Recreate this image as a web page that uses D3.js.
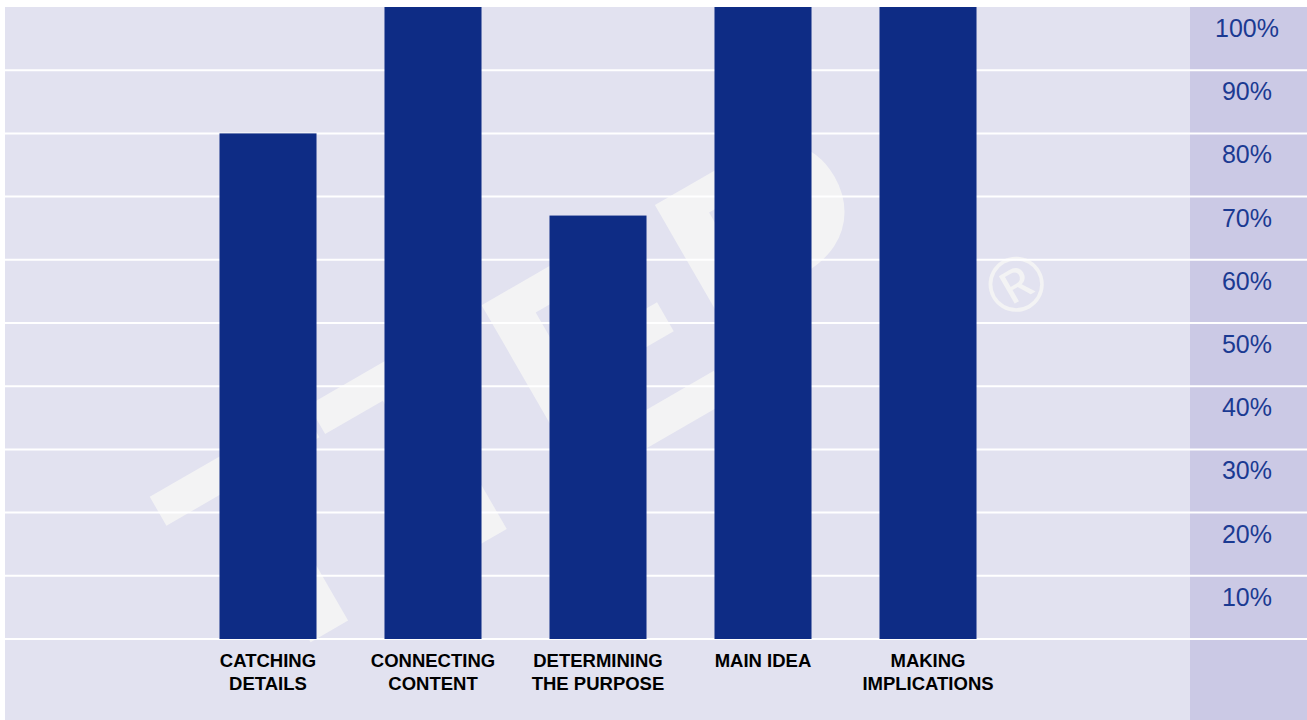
<!DOCTYPE html>
<html>
<head>
<meta charset="utf-8">
<script src="https://cdn.jsdelivr.net/npm/d3@7"></script>
<style>
  body { margin: 0; background: #ffffff; }
  svg { display: block; }
</style>
</head>
<body>
<svg width="1307" height="720"></svg>
<script>
const categories = [
  ['CATCHING', 'DETAILS'],
  ['CONNECTING', 'CONTENT'],
  ['DETERMINING', 'THE PURPOSE'],
  ['MAIN IDEA'],
  ['MAKING', 'IMPLICATIONS']
];
const values = [80, 100, 67, 100, 100];
const tickValues = [10, 20, 30, 40, 50, 60, 70, 80, 90, 100];
const gridValues = [0, 10, 20, 30, 40, 50, 60, 70, 80, 90];

let svg = d3.select('svg');

const x = d3
  .scaleBand()
  .domain(categories.map((d, i) => i))
  .range([185.5, 1010.5])
  .paddingInner(0.412)
  .paddingOuter(0.206);

const y = d3.scaleLinear().domain([0, 100]).range([639, 7]);

// backgrounds
svg.append('rect')
  .attr('x', 5).attr('y', 7).attr('width', 1302).attr('height', 713)
  .style('fill', '#e2e2f0');
svg.append('rect')
  .attr('x', 1190).attr('y', 7).attr('width', 117).attr('height', 713)
  .style('fill', '#cbc9e5');

// faint logo watermark behind everything
svg.append('text')
  .attr('transform', 'translate(528,392) rotate(-30)')
  .attr('text-anchor', 'middle')
  .attr('dy', '0.36em')
  .style('font-family', '"Liberation Sans", Arial, sans-serif')
  .style('font-weight', 'bold')
  .style('font-size', '300px')
  .style('fill', '#f3f3f4')
  .text('TTEP');
svg.append('text')
  .attr('transform', 'translate(1016,284) rotate(-30)')
  .attr('text-anchor', 'middle')
  .attr('dy', '0.35em')
  .style('font-family', '"Liberation Sans", Arial, sans-serif')
  .style('font-size', '78px')
  .style('fill', '#f3f3f4')
  .text('\u00AE');

// grid lines
svg.selectAll('line.grid')
  .data(gridValues)
  .enter()
  .append('line')
  .attr('class', 'grid')
  .attr('x1', 5).attr('x2', 1307)
  .attr('y1', d => y(d)).attr('y2', d => y(d))
  .style('stroke', '#ffffff')
  .style('stroke-width', 2);

// bars
svg.selectAll('rect.bar')
  .data(values)
  .enter()
  .append('rect')
  .attr('class', 'bar')
  .attr('x', (_, i) => x(i))
  .attr('y', d => y(d))
  .attr('width', x.bandwidth())
  .attr('height', d => y(0) - y(d))
  .style('fill', '#0e2c85');

// right-side tick labels, sitting under each line
svg.selectAll('text.tick')
  .data(tickValues)
  .enter()
  .append('text')
  .attr('class', 'tick')
  .attr('x', 1247)
  .attr('y', d => y(d) + 30)
  .attr('text-anchor', 'middle')
  .style('font-family', '"Liberation Sans", Arial, sans-serif')
  .style('font-size', '25px')
  .style('fill', '#1b3a92')
  .text(d => d + '%');

// category labels
const lab = svg.selectAll('text.cat')
  .data(categories)
  .enter()
  .append('text')
  .attr('class', 'cat')
  .attr('text-anchor', 'middle')
  .style('font-family', '"Liberation Sans", Arial, sans-serif')
  .style('font-weight', 'bold')
  .style('font-size', '18.5px')
  .style('fill', '#000000');
lab.selectAll('tspan')
  .data((d, i) => d.map(s => ({ s, i })))
  .enter()
  .append('tspan')
  .attr('x', d => x(d.i) + x.bandwidth() / 2)
  .attr('y', (d, j) => 667 + j * 23)
  .text(d => d.s);
</script>
</body>
</html>
